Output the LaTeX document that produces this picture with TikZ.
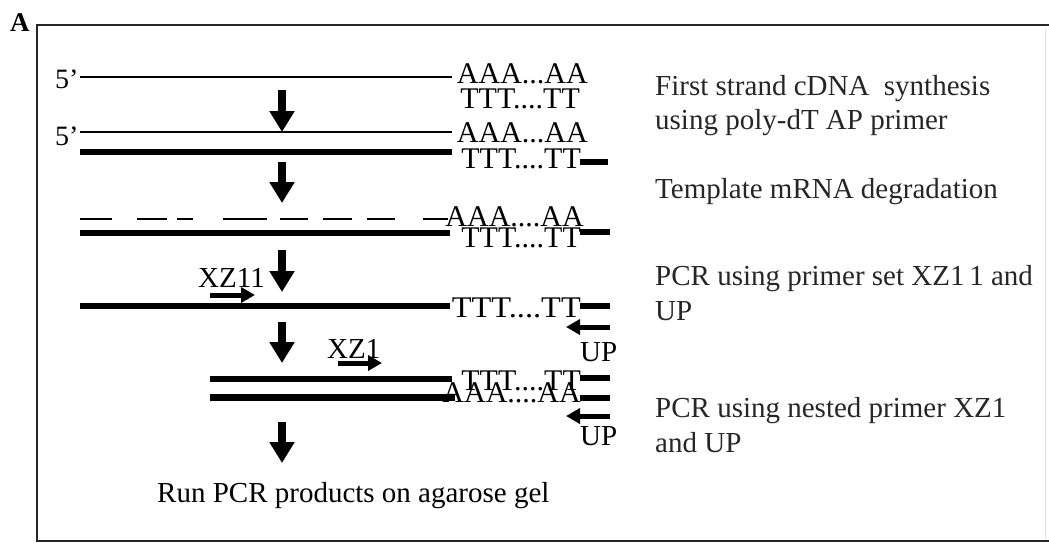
\documentclass[tikz,border=0pt]{standalone}
\usepackage{fontspec}
\setmainfont{Liberation Serif}
\newfontfamily\widelbl[FakeStretch=1.08]{Liberation Serif}
\usetikzlibrary{arrows.meta}
\begin{document}
\begin{tikzpicture}[x=1pt,y=-1pt,
  frameline/.style={line width=1.5pt, black!85},
  thinstrand/.style={line width=1.6pt},
  thickstrand/.style={line width=6pt},
  dashstrand/.style={line width=1.8pt},
  stubline/.style={line width=6pt},
  bigarrow/.style={line width=8pt, -{Triangle[width=24pt,length=21pt]}},
  primerarrow/.style={line width=5pt, -{Triangle[width=15pt,length=14pt]}},
  lbl/.style={font=\fontsize{29}{33}\selectfont, inner sep=0pt, anchor=base west},
  rlbl/.style={font=\fontsize{30}{33}\selectfont, inner sep=0pt, anchor=base east},
  desc/.style={font=\fontsize{29}{33}\selectfont, inner sep=0pt, anchor=base west, text=black!85},
]
\useasboundingbox (0,0) rectangle (1049,542);
% frame
\coordinate (ftl) at (37,25);
\coordinate (ftr) at (1049,25);
\coordinate (fbl) at (37,541);
\coordinate (fbr) at (1049,541);
\draw[frameline] (ftr) -- (ftl) -- (fbl) -- (fbr);
\coordinate (frt) at (1045,30);
\coordinate (frb) at (1045,538);
\draw[black!12, line width=1pt] (frt) -- (frb);
\node[font=\bfseries\fontsize{27}{29}\selectfont, inner sep=0pt, anchor=base west] (panelA) at (10,31) {A};

% row 1
\node[lbl, font=\fontsize{28}{30}\selectfont] (five1) at (55,88) {5’};
\coordinate (r1a) at (80,77); \coordinate (r1b) at (452,77);
\draw[thinstrand] (r1a) -- (r1b);
\node[rlbl] (aaa1) at (588,83) {AAA...AA};
\node[rlbl] (ttt1) at (580,108) {TTT....TT};

% row 2
\node[lbl, font=\fontsize{28}{30}\selectfont] (five2) at (55,145) {5’};
\coordinate (r2a) at (80,132); \coordinate (r2b) at (452,132);
\draw[thinstrand] (r2a) -- (r2b);
\coordinate (r2c) at (80,152); \coordinate (r2d) at (452,152);
\draw[thickstrand] (r2c) -- (r2d);
\node[rlbl] (aaa2) at (588,142) {AAA...AA};
\node[rlbl] (ttt2) at (581,168) {TTT....TT};
\coordinate (s2a) at (580,162); \coordinate (s2b) at (608,162);
\draw[stubline] (s2a) -- (s2b);

% row 3 (degraded mRNA)
\foreach \xa/\xb [count=\i] in {80/112,137/167,177/193,223/267,280/308,323/352,367/395,423/448}{
  \coordinate (d\i a) at (\xa,219); \coordinate (d\i b) at (\xb,219);
  \draw[dashstrand] (d\i a) -- (d\i b);
}
\coordinate (r3a) at (80,233); \coordinate (r3b) at (450,233);
\draw[thickstrand] (r3a) -- (r3b);
\node[rlbl] (aaa3) at (584,226) {AAA....AA};
\node[rlbl] (ttt3) at (581,247) {TTT....TT};
\coordinate (s3a) at (580,232); \coordinate (s3b) at (610,232);
\draw[stubline] (s3a) -- (s3b);

% row 4
\node[lbl] (xz11) at (198,287) {XZ11};
\coordinate (p1a) at (210,295); \coordinate (p1b) at (255,295);
\draw[primerarrow] (p1a) -- (p1b);
\coordinate (r4a) at (80,306); \coordinate (r4b) at (450,306);
\draw[thickstrand] (r4a) -- (r4b);
\node[rlbl, font=\widelbl\fontsize{30}{33}\selectfont] (ttt4) at (581,317) {TTT....TT};
\coordinate (s4a) at (580,306); \coordinate (s4b) at (610,306);
\draw[stubline] (s4a) -- (s4b);
\coordinate (u1a) at (610,327); \coordinate (u1b) at (566,327);
\draw[primerarrow] (u1a) -- (u1b);
\node[lbl] (up1) at (580,361) {UP};

% row 5
\node[lbl] (xz1) at (327,358) {XZ1};
\coordinate (p2a) at (338,363); \coordinate (p2b) at (382,363);
\draw[primerarrow] (p2a) -- (p2b);
\coordinate (r5a) at (210,379); \coordinate (r5b) at (452,379);
\draw[thickstrand] (r5a) -- (r5b);
\coordinate (r5c) at (210,397); \coordinate (r5d) at (455,397);
\draw[line width=7pt] (r5c) -- (r5d);
\node[rlbl] (ttt5) at (581,390) {TTT....TT};
\node[rlbl] (aaa5) at (581,402) {AAA....AA};
\coordinate (s5a) at (580,378); \coordinate (s5b) at (610,378);
\draw[stubline] (s5a) -- (s5b);
\coordinate (s6a) at (580,398); \coordinate (s6b) at (610,398);
\draw[stubline] (s6a) -- (s6b);
\coordinate (u2a) at (610,416); \coordinate (u2b) at (566,416);
\draw[primerarrow] (u2a) -- (u2b);
\node[lbl] (up2) at (580,445) {UP};

% process arrows
\coordinate (a1a) at (282,90);  \coordinate (a1b) at (282,132);
\coordinate (a2a) at (282,162); \coordinate (a2b) at (282,203);
\coordinate (a3a) at (282,250); \coordinate (a3b) at (282,292);
\coordinate (a4a) at (282,322); \coordinate (a4b) at (282,363);
\coordinate (a5a) at (282,422); \coordinate (a5b) at (282,463);
\draw[bigarrow] (a1a) -- (a1b);
\draw[bigarrow] (a2a) -- (a2b);
\draw[bigarrow] (a3a) -- (a3b);
\draw[bigarrow] (a4a) -- (a4b);
\draw[bigarrow] (a5a) -- (a5b);

\node[lbl] (gel) at (157,502) {Run PCR products on agarose gel};

% descriptions
\node[desc] (d1) at (655,95) {First strand cDNA\ \ synthesis};
\node[desc] (d2) at (655,129) {using poly-dT AP primer};
\node[desc] (d3) at (655,198) {Template mRNA degradation};
\node[desc] (d4) at (655,285) {PCR using primer set XZ1\,1 and};
\node[desc] (d5) at (655,320) {UP};
\node[desc] (d6) at (655,417) {PCR using nested primer XZ1};
\node[desc] (d7) at (655,452) {and UP};
\end{tikzpicture}
\end{document}
